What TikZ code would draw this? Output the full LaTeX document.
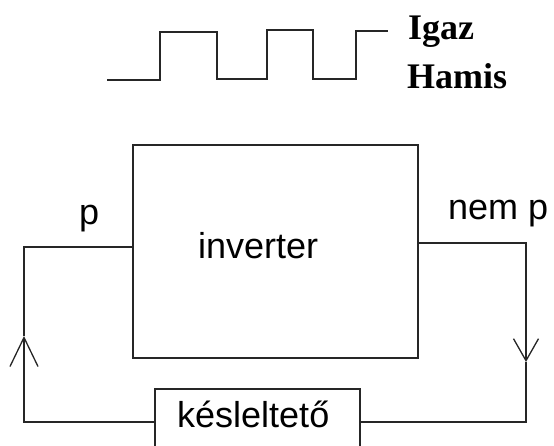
\documentclass[tikz,border=0pt]{standalone}
\usepackage{fontspec}
\setmainfont{Liberation Sans}
\newfontfamily\serifbold{Liberation Serif}[BoldFont={Liberation Serif Bold}]
\usetikzlibrary{arrows.meta}
\begin{document}
\begin{tikzpicture}[x=1pt,y=-1pt,
  wire/.style={line width=1.3pt,draw=black!85},
  blockbox/.style={draw=black!85,line width=1.3pt,rectangle,inner sep=0pt},
  lbl/.style={anchor=base west,inner sep=0pt,font=\fontsize{36}{40}\selectfont},
  tflbl/.style={anchor=base west,inner sep=0pt,font=\fontsize{36}{40}\selectfont\serifbold\bfseries},
  barbup/.style={-{Straight Barb[length=29pt,width=28pt,line width=1.3pt]}},
  barbdown/.style={-{Straight Barb[length=22pt,width=25pt,line width=1.3pt]}}]
\useasboundingbox (0,0) rectangle (554,445);
\clip (0,0) rectangle (554,445);
% waveform
\draw[wire] (107,80) -- (160,80) -- (160,32) -- (217,32) -- (217,79) -- (267,79)
  -- (267,30) -- (313,30) -- (313,79) -- (356,79) -- (356,31) -- (388,31);
\node[tflbl] (igaz) at (408,39) {Igaz};
\node[tflbl] (hamis) at (407,88) {Hamis};
% blocks
\node[blockbox,minimum width=285pt,minimum height=213pt] (inv) at (275.5,251.5) {};
\node[lbl] (invtext) at (198,258) {inverter};
\node[blockbox,minimum width=205pt,minimum height=66pt] (delay) at (257.5,422) {};
\node[lbl] (delaytext) at (177,427) {késleltető};
\node[lbl] (plbl) at (79,224) {p};
\node[lbl] (nplbl) at (448,219) {nem p};
% connectors
\coordinate (ltop) at (24,247);
\coordinate (ltip) at (24,336);
\coordinate (rtop) at (526,243);
\coordinate (rtip) at (526,362);
\draw[wire,barbup] (delay.west) -| (ltip);
\draw[wire] (ltip) -- (ltop) -- (ltop -| inv.west);
\draw[wire,barbdown] (rtop -| inv.east) -- (rtop) -- (rtip);
\draw[wire] (rtip) |- (delay.east);
\end{tikzpicture}
\end{document}
